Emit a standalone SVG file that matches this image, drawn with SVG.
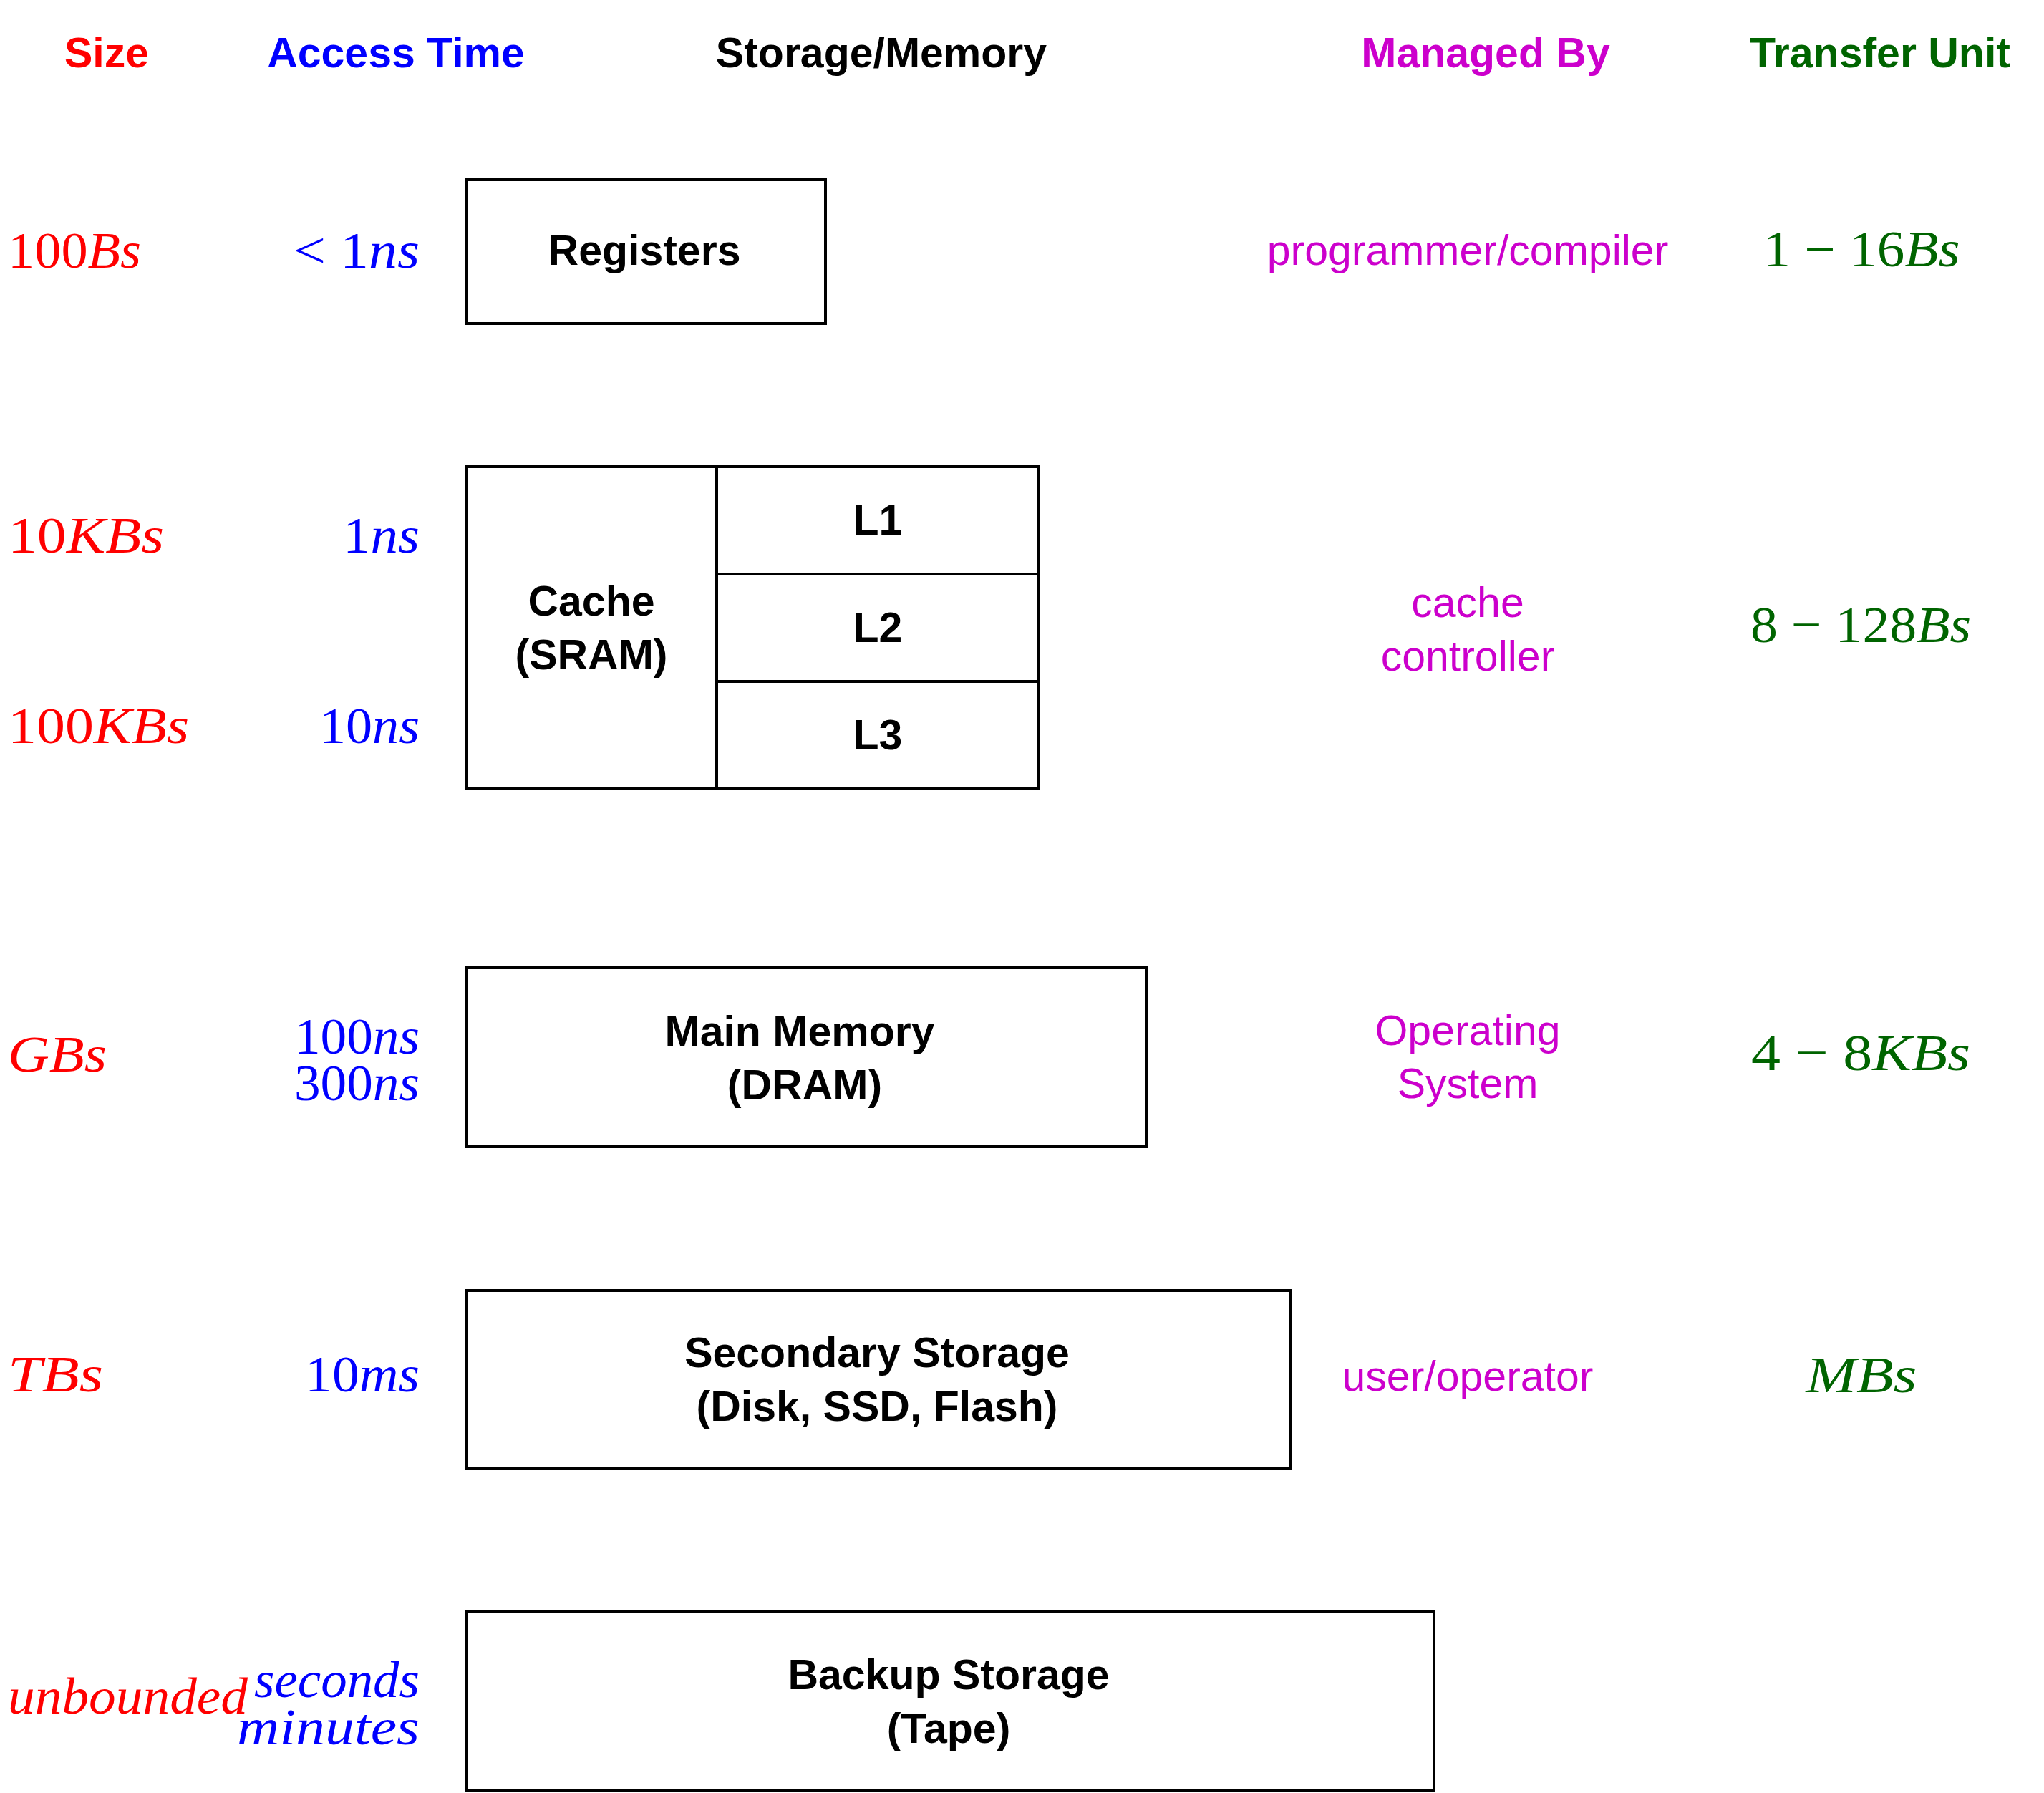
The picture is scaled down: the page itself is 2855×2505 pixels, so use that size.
<svg xmlns="http://www.w3.org/2000/svg" width="2855" height="2505" viewBox="0 0 2855 2505">
<style>
.hd{font-family:"Liberation Sans",Arial,sans-serif;font-weight:bold;font-size:59px;text-anchor:middle}
.bx{fill:none;stroke:#000;stroke-width:4}
.ln{stroke:#000;stroke-width:4}
.lb{font-family:"Liberation Sans",Arial,sans-serif;font-weight:bold;font-size:59px;text-anchor:middle;fill:#000}
.mg{font-family:"Liberation Sans",Arial,sans-serif;font-size:59px;text-anchor:middle;fill:#CC00CC}
.m{font-family:"Liberation Serif","Times New Roman",serif;font-size:72px}
.i{font-style:italic}
.red{fill:#FF0000}
.blue{fill:#0000FF;text-anchor:end}
.green{fill:#006400;text-anchor:middle}
</style>
<rect width="2855" height="2505" fill="#fff"/>
<g id="headers">
<text class="hd" x="149" y="94" fill="#FF0000">Size</text>
<text class="hd" x="553" y="94" fill="#0000FF">Access Time</text>
<text class="hd" x="1231" y="94" fill="#000">Storage/Memory</text>
<text class="hd" x="2075" y="94" fill="#CC00CC">Managed By</text>
<text class="hd" x="2626" y="94" fill="#006400">Transfer Unit</text>
</g>
<g id="registers">
<rect class="bx" x="652" y="251" width="501" height="201"/>
<text class="lb" x="900" y="370">Registers</text>
</g>
<g id="cache">
<rect class="bx" x="652" y="652" width="799" height="450"/>
<line class="ln" x1="1001" y1="652" x2="1001" y2="1102"/>
<text class="lb" x="826" y="860">Cache</text>
<text class="lb" x="826" y="935">(SRAM)</text>
</g>
<g id="l1"><text class="lb" x="1226" y="747">L1</text></g>
<g id="l2"><line class="ln" x1="1001" y1="802" x2="1451" y2="802"/><text class="lb" x="1226" y="897">L2</text></g>
<g id="l3"><line class="ln" x1="1001" y1="952" x2="1451" y2="952"/><text class="lb" x="1226" y="1047">L3</text></g>
<g id="main-memory">
<rect class="bx" x="652" y="1352" width="950" height="250"/>
<text class="lb" x="1117" y="1461">Main Memory</text>
<text class="lb" x="1124" y="1536">(DRAM)</text>
</g>
<g id="secondary-storage">
<rect class="bx" x="652" y="1803" width="1151" height="249"/>
<text class="lb" x="1225" y="1910">Secondary Storage</text>
<text class="lb" x="1225" y="1985">(Disk, SSD, Flash)</text>
</g>
<g id="backup-storage">
<rect class="bx" x="652" y="2252" width="1351" height="250"/>
<text class="lb" x="1325" y="2360">Backup Storage</text>
<text class="lb" x="1325" y="2435">(Tape)</text>
</g>
<g id="size-col">
<text class="m red" x="11" y="374" textLength="186" lengthAdjust="spacingAndGlyphs">100<tspan class="i">Bs</tspan></text>
<text class="m red" x="11" y="772" textLength="218" lengthAdjust="spacingAndGlyphs">10<tspan class="i">KBs</tspan></text>
<text class="m red" x="11" y="1038" textLength="253" lengthAdjust="spacingAndGlyphs">100<tspan class="i">KBs</tspan></text>
<text class="m red i" x="11" y="1497" textLength="138" lengthAdjust="spacingAndGlyphs">GBs</text>
<text class="m red i" x="11" y="1944" textLength="133" lengthAdjust="spacingAndGlyphs">TBs</text>
<text class="m red i" x="11" y="2394" textLength="335" lengthAdjust="spacingAndGlyphs">unbounded</text>
</g>
<g id="access-col">
<text class="m blue" x="586" y="374" textLength="176" lengthAdjust="spacingAndGlyphs">&lt; 1<tspan class="i">ns</tspan></text>
<text class="m blue" x="586" y="772" textLength="107" lengthAdjust="spacingAndGlyphs">1<tspan class="i">ns</tspan></text>
<text class="m blue" x="586" y="1038" textLength="140" lengthAdjust="spacingAndGlyphs">10<tspan class="i">ns</tspan></text>
<text class="m blue" x="586" y="1472" textLength="175" lengthAdjust="spacingAndGlyphs">100<tspan class="i">ns</tspan></text>
<text class="m blue" x="586" y="1537" textLength="175" lengthAdjust="spacingAndGlyphs">300<tspan class="i">ns</tspan></text>
<text class="m blue" x="586" y="1944" textLength="160" lengthAdjust="spacingAndGlyphs">10<tspan class="i">ms</tspan></text>
<text class="m blue i" x="586" y="2371" textLength="231" lengthAdjust="spacingAndGlyphs">seconds</text>
<text class="m blue i" x="586" y="2437" textLength="255" lengthAdjust="spacingAndGlyphs">minutes</text>
</g>
<g id="managed-col">
<text class="mg" x="2050" y="370">programmer/compiler</text>
<text class="mg" x="2050" y="862">cache</text>
<text class="mg" x="2050" y="937">controller</text>
<text class="mg" x="2050" y="1460">Operating</text>
<text class="mg" x="2050" y="1534">System</text>
<text class="mg" x="2050" y="1943">user/operator</text>
</g>
<g id="transfer-col">
<text class="m green" x="2600" y="372" textLength="275" lengthAdjust="spacingAndGlyphs">1 − 16<tspan class="i">Bs</tspan></text>
<text class="m green" x="2599" y="897" textLength="308" lengthAdjust="spacingAndGlyphs">8 − 128<tspan class="i">Bs</tspan></text>
<text class="m green" x="2599" y="1495" textLength="306" lengthAdjust="spacingAndGlyphs">4 − 8<tspan class="i">KBs</tspan></text>
<text class="m green i" x="2600" y="1945" textLength="155" lengthAdjust="spacingAndGlyphs">MBs</text>
</g>
<g id="connectors"></g>
</svg>
